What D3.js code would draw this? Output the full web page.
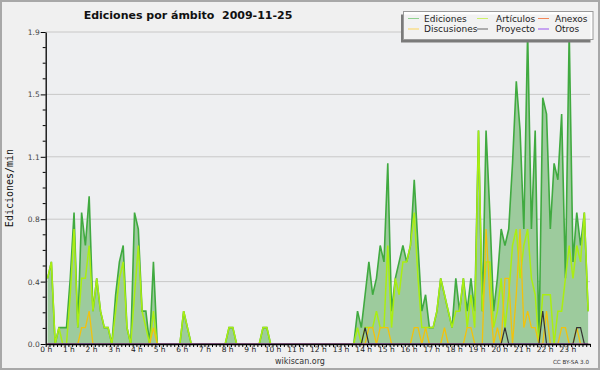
<!DOCTYPE html>
<html>
<head>
<meta charset="utf-8">
<script src="https://cdn.jsdelivr.net/npm/d3@7"></script>
<style>
  body { margin: 0; background: #f0f0f0; }
  svg { display: block; }
  .tick text { font-family: "DejaVu Sans", sans-serif; }
</style>
</head>
<body>
<div class="chart-div"></div>
<script>
// edits per minute, one value per 10 minutes (144 per day)
const ediciones = [
  0.4, 0.5, 0, 0.1, 0.1, 0.1, 0.4, 0.8, 0.1, 0.8, 0.6, 0.9,
  0.2, 0.4, 0.2, 0.1, 0.1, 0, 0.3, 0.5, 0.6, 0.1, 0, 0.8,
  0.7, 0.2, 0.2, 0, 0.5, 0, 0, 0, 0, 0, 0, 0,
  0.2, 0.1, 0, 0, 0, 0, 0, 0, 0, 0, 0, 0,
  0.1, 0.1, 0, 0, 0, 0, 0, 0, 0, 0.1, 0.1, 0,
  0, 0, 0, 0, 0, 0, 0, 0, 0, 0, 0, 0,
  0, 0, 0, 0, 0, 0, 0, 0, 0, 0, 0.2, 0.1,
  0.3, 0.5, 0.3, 0.4, 0.6, 0.5, 1.1, 0.2, 0.4, 0.5, 0.6, 0.5,
  0.6, 1.0, 0.6, 0.2, 0.3, 0.1, 0.1, 0.2, 0.4, 0.3, 0.2, 0.1,
  0.4, 0.2, 0.4, 0.2, 0.4, 0.2, 1.3, 0.2, 1.3, 0.8, 0.2, 0.4,
  0.7, 0.6, 0.7, 1.1, 1.6, 1.3, 0.7, 1.9, 0.7, 1.3, 0, 1.5,
  1.4, 0.7, 1.1, 1.0, 1.4, 0.4, 1.9, 0.5, 0.8, 0.6, 0.8, 0.2
];
const articulos = [
  0.4, 0.5, 0, 0.1, 0, 0, 0.3, 0.7, 0.1, 0.4, 0.4, 0.6,
  0.2, 0.4, 0.2, 0.1, 0.1, 0, 0.2, 0.4, 0.5, 0.1, 0, 0.3,
  0.6, 0.2, 0.1, 0, 0.2, 0, 0, 0, 0, 0, 0, 0,
  0.2, 0.1, 0, 0, 0, 0, 0, 0, 0, 0, 0, 0,
  0.1, 0.1, 0, 0, 0, 0, 0, 0, 0, 0.1, 0.1, 0,
  0, 0, 0, 0, 0, 0, 0, 0, 0, 0, 0, 0,
  0, 0, 0, 0, 0, 0, 0, 0, 0, 0, 0.1, 0,
  0.1, 0.1, 0.1, 0.2, 0.1, 0.1, 0.6, 0.1, 0.4, 0.3, 0.5, 0.5,
  0.6, 0.8, 0.4, 0.1, 0.1, 0.1, 0.1, 0.2, 0.4, 0.3, 0.2, 0.1,
  0.2, 0.2, 0.4, 0.1, 0.3, 0.1, 1.3, 0.2, 0.5, 0.5, 0.1, 0.2,
  0.4, 0.1, 0.3, 0.6, 0.7, 0.4, 0.6, 0.7, 0.4, 0.3, 0, 0.3,
  0.3, 0.3, 0, 0.2, 0.2, 0.4, 0.6, 0.4, 0.6, 0.5, 0.8, 0.2
];
const discusiones = [
  0, 0, 0, 0, 0, 0, 0, 0, 0, 0.1, 0.1, 0.2,
  0, 0, 0, 0, 0, 0, 0, 0, 0, 0, 0, 0,
  0, 0, 0, 0, 0.1, 0, 0, 0, 0, 0, 0, 0,
  0, 0, 0, 0, 0, 0, 0, 0, 0, 0, 0, 0,
  0, 0, 0, 0, 0, 0, 0, 0, 0, 0, 0, 0,
  0, 0, 0, 0, 0, 0, 0, 0, 0, 0, 0, 0,
  0, 0, 0, 0, 0, 0, 0, 0, 0, 0, 0, 0,
  0, 0.1, 0.1, 0, 0.1, 0.1, 0.1, 0, 0, 0, 0, 0,
  0, 0.1, 0.1, 0, 0.1, 0, 0, 0, 0, 0.1, 0, 0,
  0, 0, 0, 0.1, 0.1, 0, 0, 0, 0.7, 0.3, 0, 0.1,
  0, 0.4, 0.4, 0, 0.3, 0.7, 0.1, 0.2, 0.1, 0.1, 0, 0,
  0.2, 0, 0, 0, 0.1, 0.1, 0, 0, 0.1, 0, 0, 0
];
const proyecto = [
  0, 0, 0, 0, 0, 0, 0, 0, 0, 0, 0, 0,
  0, 0, 0, 0, 0, 0, 0, 0, 0, 0, 0, 0,
  0, 0, 0, 0, 0, 0, 0, 0, 0, 0, 0, 0,
  0, 0, 0, 0, 0, 0, 0, 0, 0, 0, 0, 0,
  0, 0, 0, 0, 0, 0, 0, 0, 0, 0, 0, 0,
  0, 0, 0, 0, 0, 0, 0, 0, 0, 0, 0, 0,
  0, 0, 0, 0, 0, 0, 0, 0, 0, 0, 0, 0,
  0.1, 0, 0, 0, 0, 0, 0, 0, 0, 0, 0, 0,
  0, 0, 0, 0, 0, 0, 0, 0, 0, 0, 0, 0,
  0, 0, 0, 0, 0, 0, 0, 0, 0, 0, 0, 0,
  0, 0.1, 0, 0, 0, 0, 0, 0, 0, 0, 0, 0.2,
  0, 0, 0, 0, 0, 0, 0, 0, 0.1, 0.1, 0, 0
];
const anexos = [
  0, 0, 0, 0, 0, 0, 0, 0, 0, 0, 0, 0,
  0, 0, 0, 0, 0, 0, 0, 0, 0, 0, 0, 0,
  0, 0, 0, 0, 0, 0, 0, 0, 0, 0, 0, 0,
  0, 0, 0, 0, 0, 0, 0, 0, 0, 0, 0, 0,
  0, 0, 0, 0, 0, 0, 0, 0, 0, 0, 0, 0,
  0, 0, 0, 0, 0, 0, 0, 0, 0, 0, 0, 0,
  0, 0, 0, 0, 0, 0, 0, 0, 0, 0, 0, 0,
  0, 0, 0, 0, 0, 0, 0, 0, 0, 0, 0, 0,
  0, 0, 0, 0, 0, 0, 0, 0, 0, 0, 0, 0,
  0, 0, 0, 0, 0, 0, 0, 0, 0, 0, 0, 0,
  0, 0, 0, 0, 0, 0, 0, 0, 0, 0, 0, 0,
  0, 0, 0, 0, 0, 0, 0, 0, 0, 0, 0, 0
];
const otros = anexos.slice();

const yTicks = [0, 0.38, 0.76, 1.14, 1.52, 1.9];
const yTickLabels = ["0.0", "0.4", "0.8", "1.1", "1.5", "1.9"];
const hourLabels = ["0 h", "1 h", "2 h", "3 h", "4 h", "5 h", "6 h", "7 h", "8 h", "9 h", "10 h", "11 h",
  "12 h", "13 h", "14 h", "15 h", "16 h", "17 h", "18 h", "19 h", "20 h", "21 h", "22 h", "23 h"];

const legendNames = ["Ediciones", "Artículos", "Anexos", "Discusiones", "Proyecto", "Otros"];
const legendColors = ["#8fd08f", "#cdf06a", "#f2875a", "#fcd55a", "#666666", "#9a55ee"];

const width = 600, height = 370;
const plot = {left: 45.7, right: 590, top: 32, bottom: 344};

const svg = d3.select(".chart-div").append("svg")
    .attr("width", width)
    .attr("height", height);

svg.append("rect")
    .attr("x", 1).attr("y", 1)
    .attr("width", width - 2).attr("height", height - 2)
    .attr("fill", "#f0f0f0")
    .attr("stroke", "#a8a8a8")
    .attr("stroke-width", 2);

svg.append("rect")
    .attr("x", plot.left).attr("y", plot.top)
    .attr("width", plot.right - plot.left).attr("height", plot.bottom - plot.top)
    .attr("fill", "#eeeff1");

let x = d3.scaleLinear().domain([0, 24]).range([plot.left, plot.right]);
let y = d3.scaleLinear().domain([0, 1.9]).range([plot.bottom, plot.top]);

// grid
svg.append("g").selectAll("line")
    .data(yTicks.slice(1))
    .enter().append("line")
    .attr("x1", plot.left).attr("x2", plot.right)
    .attr("y1", d => y(d)).attr("y2", d => y(d))
    .attr("stroke", "#c8c8c8")
    .attr("stroke-width", 1);

const px = (d, i) => x((i + 0.5) / 6);

let area = d3.area().x(px).y0(y(0)).y1(d => y(d));
let line = d3.line().x(px).y(d => y(d));

svg.append("path")
    .datum(ediciones)
    .attr("d", area)
    .attr("fill", "#9dcb9d");

const series = [
  {data: ediciones, color: "#40aa40", w: 1.6},
  {data: articulos, color: "#aaee11", w: 1.5},
  {data: discusiones, color: "#f2c20c", w: 1.3},
  {data: anexos, color: "#f2875a", w: 1.2},
  {data: proyecto, color: "#333333", w: 1.2},
  {data: otros, color: "#9a55ee", w: 1.2}
];

series.forEach(s => {
  svg.append("path")
      .datum(s.data)
      .attr("d", line)
      .attr("fill", "none")
      .attr("stroke", s.color)
      .attr("stroke-width", s.w)
      .attr("stroke-linejoin", "miter");
});

// x axis, a tick every 10 minutes
let xAxis = d3.axisBottom(x)
    .tickValues(d3.range(145).map(i => i / 6))
    .tickSize(3)
    .tickSizeOuter(0)
    .tickPadding(0)
    .tickFormat((d, i) => (i % 6 === 0 && i < 144) ? hourLabels[i / 6] : "");

let gx = svg.append("g")
    .attr("transform", `translate(0,${plot.bottom})`)
    .call(xAxis);
gx.select(".domain").attr("stroke", "#000").attr("stroke-width", 1.3);
gx.selectAll(".tick line").attr("stroke", "#000");
gx.selectAll(".tick text").style("font-size", "7.5px").attr("fill", "#222");

// y axis
let yAxis = d3.axisLeft(y)
    .tickValues(yTicks)
    .tickSize(5)
    .tickSizeOuter(0)
    .tickPadding(1)
    .tickFormat((d, i) => yTickLabels[i]);

let gy = svg.append("g")
    .attr("transform", `translate(${plot.left},0)`)
    .call(yAxis);
gy.select(".domain").attr("stroke", "#000").attr("stroke-width", 1.3);
gy.selectAll(".tick line").attr("stroke", "#000");
gy.selectAll(".tick text").style("font-size", "7.5px").attr("fill", "#444");

let minorY = d3.range(21).filter(i => i % 4 !== 0).map(i => i * 1.9 / 20);
gy.selectAll("line.minor")
    .data(minorY)
    .enter().append("line")
    .attr("class", "minor")
    .attr("x1", -3).attr("x2", 0)
    .attr("y1", d => y(d)).attr("y2", d => y(d))
    .attr("stroke", "#000");

// titles
svg.append("text")
    .attr("x", 188).attr("y", 18.5)
    .attr("text-anchor", "middle")
    .style("font-family", "DejaVu Sans")
    .style("font-weight", "bold")
    .style("font-size", "11px")
    .attr("fill", "#111")
    .attr("xml:space", "preserve")
    .text("Ediciones por ámbito  2009-11-25");

svg.append("text")
    .attr("transform", "translate(13,188) rotate(-90)")
    .attr("text-anchor", "middle")
    .style("font-family", "DejaVu Sans Mono")
    .style("font-size", "10px")
    .attr("fill", "#111")
    .text("Ediciones/min");

svg.append("text")
    .attr("x", 300).attr("y", 363.5)
    .attr("text-anchor", "middle")
    .style("font-family", "DejaVu Sans")
    .style("font-size", "8px")
    .attr("fill", "#333")
    .text("wikiscan.org");

svg.append("text")
    .attr("x", 589).attr("y", 364)
    .attr("text-anchor", "end")
    .style("font-family", "DejaVu Sans")
    .style("font-size", "5.6px")
    .attr("fill", "#333")
    .text("CC BY-SA 3.0");

// legend
let legendBox = {x: 403.5, y: 11.5, width: 189.5, height: 28};

svg.append("rect")
    .attr("x", legendBox.x - 2.5).attr("y", legendBox.y + 3)
    .attr("width", legendBox.width).attr("height", legendBox.height)
    .attr("fill", "#7a7a7a");

svg.append("rect")
    .attr("x", legendBox.x).attr("y", legendBox.y)
    .attr("width", legendBox.width).attr("height", legendBox.height)
    .attr("fill", "#ffffff")
    .attr("fill-opacity", 0.9)
    .attr("stroke", "#9a9a9a")
    .attr("stroke-width", 1);

let legendCols = [{lx: 408, tx: 424}, {lx: 477, tx: 496}, {lx: 538, tx: 555}];
let legendRows = [18.5, 29];

let legend = svg.selectAll("g.legend")
    .data(legendNames)
    .enter().append("g")
    .attr("class", "legend");

legend.append("line")
    .attr("x1", (d, i) => legendCols[i % 3].lx)
    .attr("x2", (d, i) => legendCols[i % 3].lx + 11)
    .attr("y1", (d, i) => legendRows[Math.floor(i / 3)])
    .attr("y2", (d, i) => legendRows[Math.floor(i / 3)])
    .attr("stroke", (d, i) => legendColors[i])
    .attr("stroke-width", 1);

legend.append("text")
    .attr("x", (d, i) => legendCols[i % 3].tx)
    .attr("y", (d, i) => legendRows[Math.floor(i / 3)] + 3.2)
    .style("font-family", "DejaVu Sans")
    .style("font-size", "9px")
    .attr("fill", "#222")
    .text(d => d);
</script>
</body>
</html>
